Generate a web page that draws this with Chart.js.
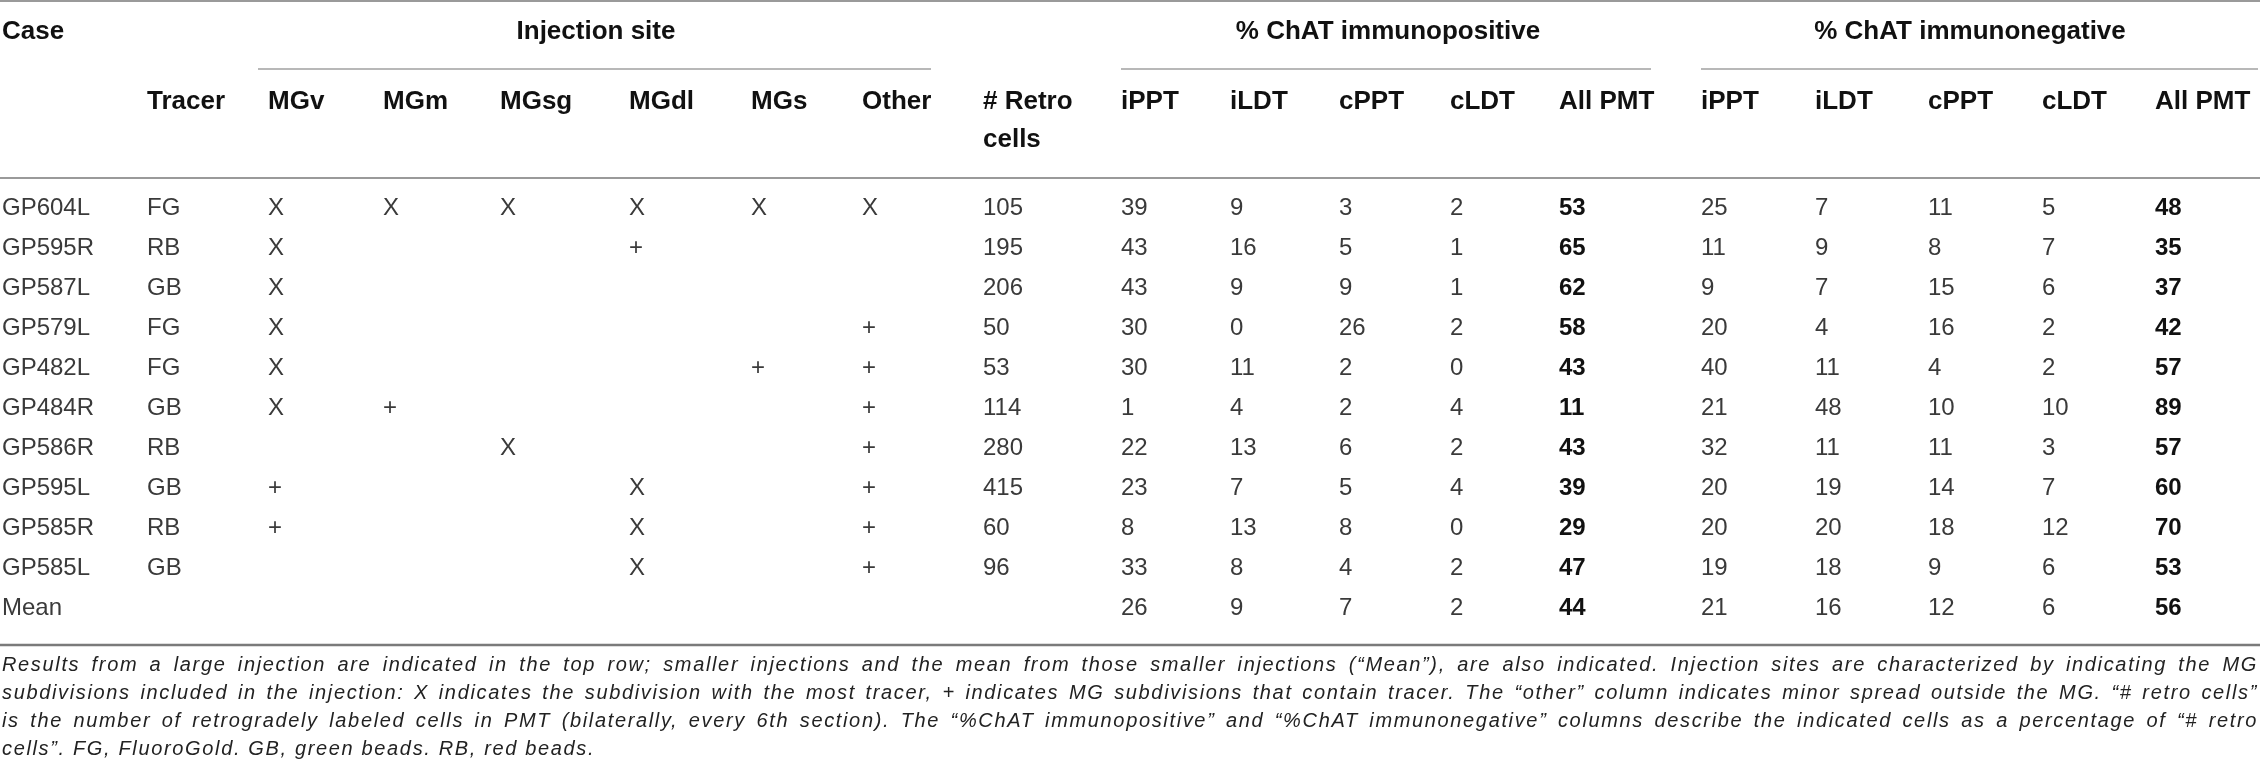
<!DOCTYPE html>
<html>
<head>
<meta charset="utf-8">
<script src="https://cdn.jsdelivr.net/npm/chart.js@4"></script>
<style>
  body { margin: 0; background: #fff; }
  canvas { display: block; }
</style>
</head>
<body>
<canvas id="tbl" width="2260" height="767"></canvas>
<script>
// rows
const cases = ['GP604L', 'GP595R', 'GP587L', 'GP579L', 'GP482L', 'GP484R', 'GP586R', 'GP595L', 'GP585R', 'GP585L', 'Mean'];
const tracers = ['FG', 'RB', 'GB', 'FG', 'FG', 'GB', 'RB', 'GB', 'RB', 'GB', ''];

// injection site marks (X = most tracer, + = contains tracer)
const siteLabels = ['MGv', 'MGm', 'MGsg', 'MGdl', 'MGs', 'Other'];
const mgv = ['X', 'X', 'X', 'X', 'X', 'X', '', '+', '+', '', ''];
const mgm = ['X', '', '', '', '', '+', '', '', '', '', ''];
const mgsg = ['X', '', '', '', '', '', 'X', '', '', '', ''];
const mgdl = ['X', '+', '', '', '', '', '', 'X', 'X', 'X', ''];
const mgs = ['X', '', '', '', '+', '', '', '', '', '', ''];
const other = ['X', '', '', '+', '+', '+', '+', '+', '+', '+', ''];

const retroCells = [105, 195, 206, 50, 53, 114, 280, 415, 60, 96, null];

const regionLabels = ['iPPT', 'iLDT', 'cPPT', 'cLDT', 'All PMT'];
// % ChAT immunopositive
const posIPPT = [39, 43, 43, 30, 30, 1, 22, 23, 8, 33, 26];
const posILDT = [9, 16, 9, 0, 11, 4, 13, 7, 13, 8, 9];
const posCPPT = [3, 5, 9, 26, 2, 2, 6, 5, 8, 4, 7];
const posCLDT = [2, 1, 1, 2, 0, 4, 2, 4, 0, 2, 2];
const posAll = [53, 65, 62, 58, 43, 11, 43, 39, 29, 47, 44];
// % ChAT immunonegative
const negIPPT = [25, 11, 9, 20, 40, 21, 32, 20, 20, 19, 21];
const negILDT = [7, 9, 7, 4, 11, 48, 11, 19, 20, 18, 16];
const negCPPT = [11, 8, 15, 16, 4, 10, 11, 14, 18, 9, 12];
const negCLDT = [5, 7, 6, 2, 2, 10, 3, 7, 12, 6, 6];
const negAll = [48, 35, 37, 42, 57, 89, 57, 60, 70, 53, 56];

const captionLines = [
  'Results from a large injection are indicated in the top row; smaller injections and the mean from those smaller injections (\u201cMean\u201d), are also indicated. Injection sites are characterized by indicating the MG',
  'subdivisions included in the injection: X indicates the subdivision with the most tracer, + indicates MG subdivisions that contain tracer. The \u201cother\u201d column indicates minor spread outside the MG. \u201c# retro cells\u201d',
  'is the number of retrogradely labeled cells in PMT (bilaterally, every 6th section). The \u201c%ChAT immunopositive\u201d and \u201c%ChAT immunonegative\u201d columns describe the indicated cells as a percentage of \u201c# retro',
  'cells\u201d. FG, FluoroGold. GB, green beads. RB, red beads.'
];

// layout (pixel units on the hidden x axis)
const colLeft = [2, 147, 268, 383, 500, 629, 751, 862, 983, 1121, 1230, 1339, 1450, 1559, 1701, 1815, 1928, 2042, 2155];
const FONT = '"Liberation Sans", Arial, sans-serif';

const columns = [cases, tracers, mgv, mgm, mgsg, mgdl, mgs, other, retroCells,
  posIPPT, posILDT, posCPPT, posCLDT, posAll, negIPPT, negILDT, negCPPT, negCLDT, negAll];
const boldCols = [13, 18];

const datasets = columns.map((vals, k) => ({
  label: 'col' + k,
  bold: boldCols.includes(k),
  pointRadius: 0,
  data: vals.map((v, i) => ({ x: colLeft[k], y: cases[i], t: v }))
             .filter(p => p.t !== '' && p.t !== null)
}));

function justify(ctx, text, x, y, width) {
  const words = text.split(' ');
  let spacing = 1.65, total, gap;
  do {
    ctx.letterSpacing = spacing.toFixed(2) + 'px';
    total = words.reduce((s, w) => s + ctx.measureText(w).width, 0);
    gap = (width - total) / (words.length - 1);
    spacing -= 0.1;
  } while (gap < 5 && spacing > 0);
  let cx = x;
  words.forEach(w => {
    ctx.fillText(w, cx, y);
    cx += ctx.measureText(w).width + gap;
  });
}

const tablePlugin = {
  id: 'tablePlugin',
  afterDatasetsDraw(chart) {
    const ctx = chart.ctx;
    const xs = chart.scales.x;
    ctx.save();
    ctx.textBaseline = 'middle';
    ctx.textAlign = 'left';
    chart.data.datasets.forEach((ds, di) => {
      ctx.font = (ds.bold ? 'bold ' : '') + '24px ' + FONT;
      ctx.fillStyle = ds.bold ? '#111' : '#3a3a3a';
      chart.getDatasetMeta(di).data.forEach((el, i) => {
        ctx.fillText(String(ds.data[i].t), el.x, el.y);
      });
    });

    // rules
    ctx.strokeStyle = '#9a9a9a';
    ctx.lineWidth = 2;
    [1, 178].forEach(y => {
      ctx.beginPath(); ctx.moveTo(0, y); ctx.lineTo(2260, y); ctx.stroke();
    });
    ctx.strokeStyle = '#7a7a7a';
    ctx.lineWidth = 2.5;
    ctx.beginPath(); ctx.moveTo(0, 645); ctx.lineTo(2260, 645); ctx.stroke();
    ctx.strokeStyle = '#a0a0a0';
    ctx.lineWidth = 1.5;
    [[colLeft[2] - 10, 931], [colLeft[9], 1651], [colLeft[14], 2258]].forEach(([a, b]) => {
      ctx.beginPath(); ctx.moveTo(a, 69); ctx.lineTo(b, 69); ctx.stroke();
    });

    // headers
    ctx.fillStyle = '#111';
    ctx.font = 'bold 26px ' + FONT;
    ctx.fillText('Case', xs.getPixelForValue(colLeft[0]), 32);
    ctx.fillText('Tracer', xs.getPixelForValue(colLeft[1]), 102);
    siteLabels.forEach((s, i) => ctx.fillText(s, xs.getPixelForValue(colLeft[2 + i]), 102));
    ctx.fillText('# Retro', xs.getPixelForValue(colLeft[8]), 102);
    ctx.fillText('cells', xs.getPixelForValue(colLeft[8]), 140);
    regionLabels.forEach((s, i) => {
      ctx.fillText(s, xs.getPixelForValue(colLeft[9 + i]), 102);
      ctx.fillText(s, xs.getPixelForValue(colLeft[14 + i]), 102);
    });
    ctx.textAlign = 'center';
    ctx.fillText('Injection site', 596, 32);
    ctx.fillText('% ChAT immunopositive', 1388, 32);
    ctx.fillText('% ChAT immunonegative', 1970, 32);

    // caption
    ctx.textAlign = 'left';
    ctx.fillStyle = '#222';
    ctx.font = 'italic 20px ' + FONT;
    captionLines.forEach((line, i) => {
      const y = 665 + i * 28;
      if (i < captionLines.length - 1) {
        justify(ctx, line, 2, y, 2256);
      } else {
        ctx.letterSpacing = '1.65px';
        ctx.fillText(line, 2, y);
      }
    });
    ctx.restore();
  }
};

new Chart(document.getElementById('tbl'), {
  type: 'scatter',
  data: { datasets: datasets },
  options: {
    responsive: false,
    animation: false,
    devicePixelRatio: 1,
    layout: { padding: { top: 188, bottom: 139, left: 0, right: 0 } },
    scales: {
      x: { type: 'linear', min: 0, max: 2260, display: false },
      y: { type: 'category', labels: cases, offset: true, display: false }
    },
    plugins: { legend: { display: false }, tooltip: { enabled: false } }
  },
  plugins: [tablePlugin]
});
</script>
</body>
</html>
